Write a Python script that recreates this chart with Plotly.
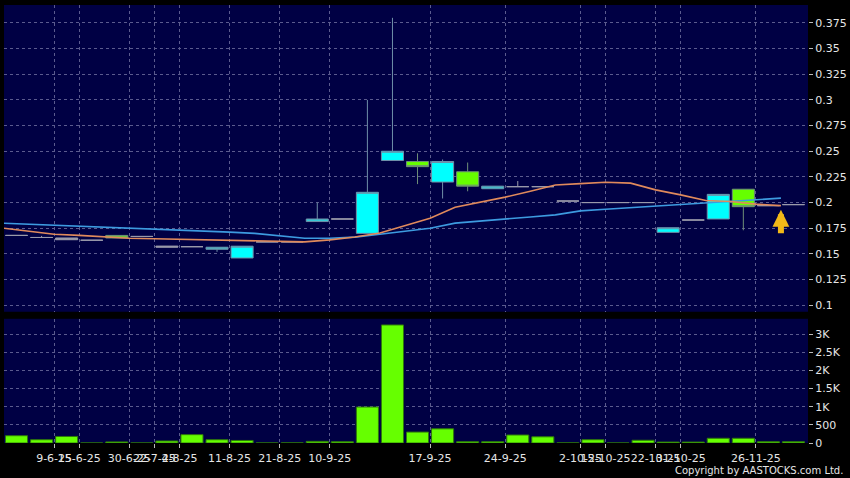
import plotly.graph_objects as go

# ---------------- data ----------------
slots = list(range(32))
opens = [0.168, 0.166, 0.1655, 0.1633, 0.168, 0.167, 0.1576, 0.157, 0.1545, 0.146,
         0.1617, 0.1617, 0.1815, 0.184, 0.170, 0.241, 0.240, 0.220, 0.230, 0.2135,
         0.2155, 0.2155, 0.2015, 0.200, 0.200, 0.200, 0.171, 0.183, 0.184, 0.213,
         0.197, 0.198]
closes = [0.168, 0.166, 0.1638, 0.1633, 0.1655, 0.167, 0.1566, 0.157, 0.1565, 0.1575,
          0.1617, 0.1617, 0.184, 0.184, 0.210, 0.250, 0.235, 0.240, 0.216, 0.216,
          0.2155, 0.2155, 0.2015, 0.200, 0.200, 0.200, 0.1755, 0.183, 0.208, 0.196,
          0.197, 0.198]
highs = [0.168, 0.1675, 0.1655, 0.1633, 0.168, 0.167, 0.1576, 0.157, 0.1565, 0.1575,
         0.1617, 0.1617, 0.200, 0.184, 0.300, 0.380, 0.248, 0.242, 0.239, 0.216,
         0.221, 0.2155, 0.2015, 0.200, 0.200, 0.200, 0.1755, 0.183, 0.208, 0.213,
         0.197, 0.198]
lows = [0.168, 0.166, 0.1638, 0.1633, 0.1655, 0.167, 0.1566, 0.157, 0.152, 0.146,
        0.1617, 0.1617, 0.1815, 0.184, 0.170, 0.241, 0.218, 0.204, 0.211, 0.2135,
        0.2155, 0.2155, 0.2015, 0.200, 0.200, 0.200, 0.171, 0.183, 0.184, 0.173,
        0.197, 0.198]
volumes = [200, 90, 180, 0, 30, 0, 55, 230, 90, 70,
           0, 3, 45, 35, 990, 3250, 300, 390, 35, 35,
           220, 170, 3, 90, 0, 75, 25, 25, 130, 130,
           35, 35]

# moving averages, sampled at slot boundaries (-0.5 ... 30.5)
ma_slots = [s - 0.5 for s in range(32)]
ma_short = [0.175, 0.172, 0.1692, 0.168, 0.1665, 0.1653, 0.1648, 0.1643, 0.1637, 0.163,
            0.1625, 0.162, 0.1617, 0.1637, 0.1664, 0.1703, 0.1775, 0.1848, 0.1955, 0.2004,
            0.2053, 0.211, 0.2172, 0.2185, 0.2198, 0.2189, 0.2124, 0.2075, 0.202, 0.201,
            0.1985, 0.197]
ma_long = [0.1799, 0.179, 0.178, 0.177, 0.176, 0.175, 0.1743, 0.1734, 0.1723, 0.1712,
           0.170, 0.168, 0.1653, 0.1653, 0.1663, 0.1692, 0.172, 0.175, 0.180, 0.1822,
           0.1838, 0.186, 0.188, 0.1919, 0.1935, 0.195, 0.1965, 0.1978, 0.1995, 0.201,
           0.2027, 0.2043]

date_tick_slots = [1.5, 2.5, 4.5, 5.5, 6.5, 8.5, 10.5, 12.5, 16.5, 19.5, 22.5, 23.5,
                   25.5, 26.5, 29.5]
date_tick_labels = ["9-6-25", "15-6-25", "30-6-25", "22-7-25", "4-8-25", "11-8-25",
                    "21-8-25", "10-9-25", "17-9-25", "24-9-25", "2-10-25", "15-10-25",
                    "22-10-25", "31-10-25", "26-11-25"]
price_ticks = [0.1, 0.125, 0.15, 0.175, 0.2, 0.225, 0.25, 0.275, 0.3, 0.325, 0.35, 0.375]
price_tick_labels = ["0.1", "0.125", "0.15", "0.175", "0.2", "0.225", "0.25", "0.275",
                     "0.3", "0.325", "0.35", "0.375"]
vol_ticks = [0, 500, 1000, 1500, 2000, 2500, 3000]
vol_tick_labels = ["0", "500", "1K", "1.5K", "2K", "2.5K", "3K"]
last_slot_marker = 30.5
last_marker_price = 0.1929

# ---------------- split candles ----------------
flat_tol = 0.0018
groups = {"up": [], "down": [], "flat": []}
for i in slots:
    d = closes[i] - opens[i]
    if abs(d) < flat_tol:
        groups["flat"].append(i)
    elif d > 0:
        groups["up"].append(i)
    else:
        groups["down"].append(i)

FONT = "DejaVu Sans"
fig = go.Figure()

styles = {
    "up": ("#00ffff", "#6f8fa8"),
    "down": ("#66ff00", "#6f8f78"),
    "flat": ("#9a9aaa", "#9a9aaa"),
}
for key, idx in groups.items():
    fill, line = styles[key]
    fig.add_trace(go.Candlestick(
        x=[slots[i] for i in idx],
        open=[opens[i] for i in idx], high=[highs[i] for i in idx],
        low=[lows[i] for i in idx], close=[closes[i] for i in idx],
        increasing=dict(fillcolor=fill, line=dict(color=line, width=1)),
        decreasing=dict(fillcolor=fill, line=dict(color=line, width=1)),
        whiskerwidth=0, showlegend=False, hoverinfo="skip",
        xaxis="x", yaxis="y"))

fig.add_trace(go.Scatter(x=ma_slots, y=ma_long, mode="lines",
                         line=dict(color="#3d9be0", width=1.6),
                         showlegend=False, hoverinfo="skip", xaxis="x", yaxis="y"))
fig.add_trace(go.Scatter(x=ma_slots, y=ma_short, mode="lines",
                         line=dict(color="#e08a5c", width=1.6),
                         showlegend=False, hoverinfo="skip", xaxis="x", yaxis="y"))

fig.add_trace(go.Bar(x=slots, y=volumes,
                     marker=dict(color="#66ff00", line=dict(color="#2f7a0a", width=1)),
                     showlegend=False, hoverinfo="skip", xaxis="x2", yaxis="y2"))

grid = dict(showgrid=True, gridcolor="#5b5b8e", griddash="3px,3px", gridwidth=1,
            zeroline=False, showline=False)

fig.update_layout(
    width=850, height=478,
    margin=dict(l=4, r=42, t=5, b=35, autoexpand=False),
    paper_bgcolor="#000000", plot_bgcolor="#000044",
    font=dict(family=FONT, size=11, color="#e6e6e6"),
    boxgap=0.12, boxgroupgap=0, bargap=0.12,
    xaxis=dict(domain=[0, 1], anchor="y", range=[-0.5, 31.58], matches="x2",
               tickmode="array", tickvals=date_tick_slots, showticklabels=False,
               rangeslider=dict(visible=False), ticks="", **grid),
    yaxis=dict(domain=[0.2996, 1], anchor="x", side="right", range=[0.0936, 0.3925],
               tickmode="array", tickvals=price_ticks, ticktext=price_tick_labels,
               ticks="outside", ticklen=4, tickcolor="#bbbbbb",
               tickfont=dict(family=FONT, size=11, color="#e6e6e6"), **grid),
    xaxis2=dict(domain=[0, 1], anchor="y2", range=[-0.5, 31.58],
                tickmode="array", tickvals=date_tick_slots, ticktext=date_tick_labels,
                tickangle=0, ticks="outside", ticklen=4, tickcolor="#bbbbbb",
                ticklabelstandoff=1,
                tickfont=dict(family=FONT, size=11, color="#e6e6e6"), **grid),
    yaxis2=dict(domain=[0, 0.2836], anchor="x2", side="right", range=[0, 3420],
                tickmode="array", tickvals=vol_ticks, ticktext=vol_tick_labels,
                ticks="outside", ticklen=4, tickcolor="#bbbbbb",
                tickfont=dict(family=FONT, size=11, color="#e6e6e6"), **grid),
)

fig.add_annotation(x=last_slot_marker, y=last_marker_price, xref="x", yref="y",
                   text="", showarrow=True, ax=0, ay=25, axref="pixel", ayref="pixel",
                   arrowhead=2, arrowsize=0.56, arrowwidth=6, arrowcolor="#f2b818",
                   standoff=0)
fig.add_annotation(x=1.046, y=-0.062, xref="paper", yref="paper",
                   text="Copyright by AASTOCKS.com Ltd.", showarrow=False,
                   xanchor="right", yanchor="middle",
                   font=dict(family=FONT, size=10, color="#e6e6e6"))

fig.write_html("out.html", config={"displayModeBar": False},
               post_script="document.body.style.margin='0';")
